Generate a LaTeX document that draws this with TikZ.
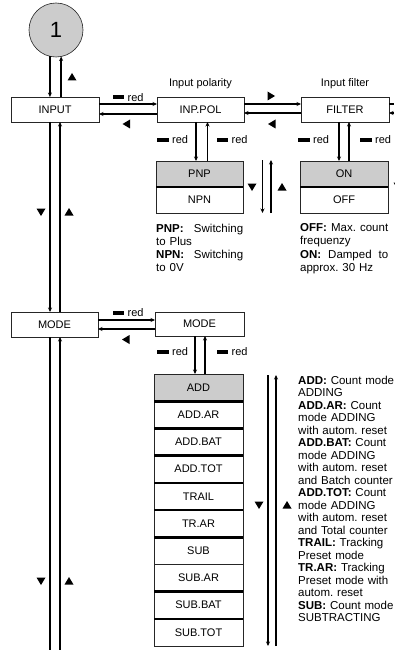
\documentclass[tikz,border=0pt]{standalone}
\usepackage{fontspec}
\setmainfont{Liberation Sans}
\usetikzlibrary{arrows.meta}
\frenchspacing
\newcommand\tdown[1]{\fill (#1) ++(-4.5,-3.5) -- ++(9,0) -- ++(-4.5,7.5) -- cycle;}
\newcommand\tup[1]{\fill (#1) ++(-4.5,3.5) -- ++(9,0) -- ++(-4.5,-7.5) -- cycle;}
\newcommand\tleft[1]{\fill (#1) ++(3.5,-4.5) -- ++(0,9) -- ++(-7.5,-4.5) -- cycle;}
\newcommand\tright[1]{\fill (#1) ++(-3.5,-4.5) -- ++(0,9) -- ++(7.5,-4.5) -- cycle;}
\newcommand\redlab[3]{\fill (#2,#3-2) rectangle ++(11.5,4); \node[redt] (#1) at (#2+15,#3) {red};}
\begin{document}
\begin{tikzpicture}[x=1pt,y=-1pt,
  box/.style={draw=black!85, line width=0.6pt, minimum width=#1, minimum height=25pt, inner sep=0pt, outer sep=0pt, font=\fontsize{11}{13}\selectfont},
  cell/.style={box=#1, minimum height=27.2pt},
  conn/.style={line width=1.4pt, -{Stealth[length=4.5pt,width=4pt]}},
  plain/.style={line width=1.4pt},
  div/.style={line width=2.6pt},
  redt/.style={anchor=west, inner sep=0pt, font=\fontsize{11}{13}\selectfont},
  desc/.style={anchor=north west, inner sep=0pt, align=left, text width=#1},
  ttl/.style={inner sep=0pt, font=\fontsize{11}{13}\selectfont}
]
\useasboundingbox (0,0) rectangle (394,650);

% circle
\node[circle, draw=black!85, line width=0.6pt, fill=black!20, minimum size=54pt, inner sep=0pt, outer sep=0pt, font=\fontsize{22}{24}\selectfont] (c1) at (56,30) {1};

% main boxes
\node[box=88pt] (inp) at (55,109.5) {INPUT};
\node[box=87pt] (pol) at (200.5,109.5) {INP.POL};
\node[box=88pt] (fil) at (345,109.5) {FILTER};
\node[box=87pt] (mode1) at (54.5,324.5) {MODE};
\node[box=89pt, minimum height=24pt] (mode2) at (199.5,324) {MODE};

\node[ttl] (tpol) at (200.5,84) {Input polarity};
\node[ttl] (tfil) at (345,84) {Input filter};

% PNP / NPN
\node[box=87pt, minimum height=26pt, fill=black!20] (pnp) at (199.5,174) {PNP};
\node[box=87pt, minimum height=26pt] (npn) at (199.5,200) {NPN};
\draw[div] (pnp.south west) -- (pnp.south east);

% ON / OFF
\node[box=88pt, minimum height=26pt, fill=black!20] (on) at (344,174) {ON};
\node[box=88pt, minimum height=26pt] (off) at (344,200) {OFF};
\draw[div] (on.south west) -- (on.south east);

% mode list
\foreach \t [count=\i] in {ADD,ADD.AR,ADD.BAT,ADD.TOT,TRAIL,TR.AR,SUB,SUB.AR,SUB.BAT,SUB.TOT}
  \node[cell=89pt] (l\i) at (198.5,{374+13.6+27.2*(\i-1)}) {\t};
\node[cell=89pt, fill=black!20] (l1b) at (l1) {ADD};
\foreach \i in {1,2,3,4,5,6,8,9}
  \draw[div] (l\i.south west) -- (l\i.south east);

% circle <-> INPUT
\draw[conn] (c1.257) -- (c1.257 |- inp.north);
\draw[conn] (inp.north -| c1.281) -- (c1.281);

% INPUT <-> INP.POL
\draw[conn] (inp.east |- 0,104) -- (pol.west |- 0,104);
\draw[conn] (pol.west |- 0,114) -- (inp.east |- 0,114);
% INP.POL <-> FILTER
\draw[conn] (pol.east |- 0,104) -- (fil.west |- 0,104);
\draw[conn] (fil.west |- 0,113) -- (pol.east |- 0,113);
% FILTER -> right edge
\coordinate (fr1) at (394,104);
\coordinate (fr2) at (394,113);
\draw[plain] (fil.east |- fr1) -- (fr1);
\draw[conn] (fr2) -- (fil.east |- fr2);

% INP.POL <-> PNP
\draw[conn] (pol.south -| 196,0) -- (pnp.north -| 196,0);
\draw[conn] (pnp.north -| 207.5,0) -- (pol.south -| 207.5,0);
% FILTER <-> ON
\draw[conn] (fil.south -| 339,0) -- (on.north -| 339,0);
\draw[conn] (on.north -| 349,0) -- (fil.south -| 349,0);

% between PNP and ON
\coordinate (pa1) at (262.5,160); \coordinate (pa2) at (262.5,213);
\coordinate (pb1) at (271,213); \coordinate (pb2) at (271,160);
\draw[conn] (pa1) -- (pa2);
\draw[conn] (pb1) -- (pb2);

% INPUT <-> MODE
\draw[conn] (inp.south -| 50,0) -- (mode1.north -| 50,0);
\draw[conn] (mode1.north -| 60,0) -- (inp.south -| 60,0);
% MODE -> bottom
\coordinate (b1) at (50,650); \coordinate (b2) at (60,650);
\draw[plain] (mode1.south -| b1) -- (b1);
\draw[conn] (b2) -- (mode1.south -| b2);

% MODE <-> MODE
\draw[conn] (mode1.east |- 0,320) -- (mode2.west |- 0,320);
\draw[conn] (mode2.west |- 0,329) -- (mode1.east |- 0,329);
% MODE -> ADD
\draw[conn] (mode2.south -| 195,0) -- (l1.north -| 195,0);
\draw[conn] (l1.north -| 205,0) -- (mode2.south -| 205,0);

% list arrows
\coordinate (la1) at (268,375); \coordinate (la2) at (268,646);
\coordinate (lb1) at (276,646); \coordinate (lb2) at (276,375);
\draw[conn] (la1) -- (la2);
\draw[conn] (lb1) -- (lb2);

% red labels
\redlab{r1}{112.5}{97.5}
\redlab{r2}{157}{139.5}
\redlab{r3}{216.5}{139.5}
\redlab{r4}{298}{139.5}
\redlab{r5}{360}{139.5}
\redlab{r6}{112.5}{312.5}
\redlab{r7}{157}{352}
\redlab{r8}{216.5}{352}

% triangles
\tup{72,77}
\tleft{126.5,124}
\tright{271,96}
\tleft{272,124}
\tdown{252,187}
\tup{282,187}
\tdown{398,186}
\tleft{126,339.5}
\tdown{41,212}
\tup{69,212}
\tdown{41,581}
\tup{69,581}
\tdown{259,505}
\tup{287,505}

% descriptions
\node[desc=87pt, font=\fontsize{11.5}{13.2}\selectfont] (dpnp) at (156,223.5)
  {\textbf{PNP:}\hfill Switching\\ to Plus\\ \textbf{NPN:}\hfill Switching\\ to 0V};
\node[desc=88pt, font=\fontsize{11.5}{13.2}\selectfont] (doff) at (300,223.5)
  {\textbf{OFF:}\hfill Max.\hfill count\\ frequenzy\\ \textbf{ON:}\hfill Damped\hfill to\\ approx. 30 Hz};
\node[desc=100pt, font=\fontsize{11.5}{12.5}\selectfont] (dadd) at (298,375.5)
  {\textbf{ADD:} Count mode\\ ADDING\\ \textbf{ADD.AR:} Count\\ mode ADDING\\ with autom. reset\\
   \textbf{ADD.BAT:} Count\\ mode ADDING\\ with autom. reset\\ and Batch counter\\
   \textbf{ADD.TOT:} Count\\ mode ADDING\\ with autom. reset\\ and Total counter\\
   \textbf{TRAIL:} Tracking\\ Preset mode\\ \textbf{TR.AR:} Tracking\\ Preset mode with\\ autom. reset\\
   \textbf{SUB:} Count mode\\ SUBTRACTING};
\end{tikzpicture}
\end{document}
